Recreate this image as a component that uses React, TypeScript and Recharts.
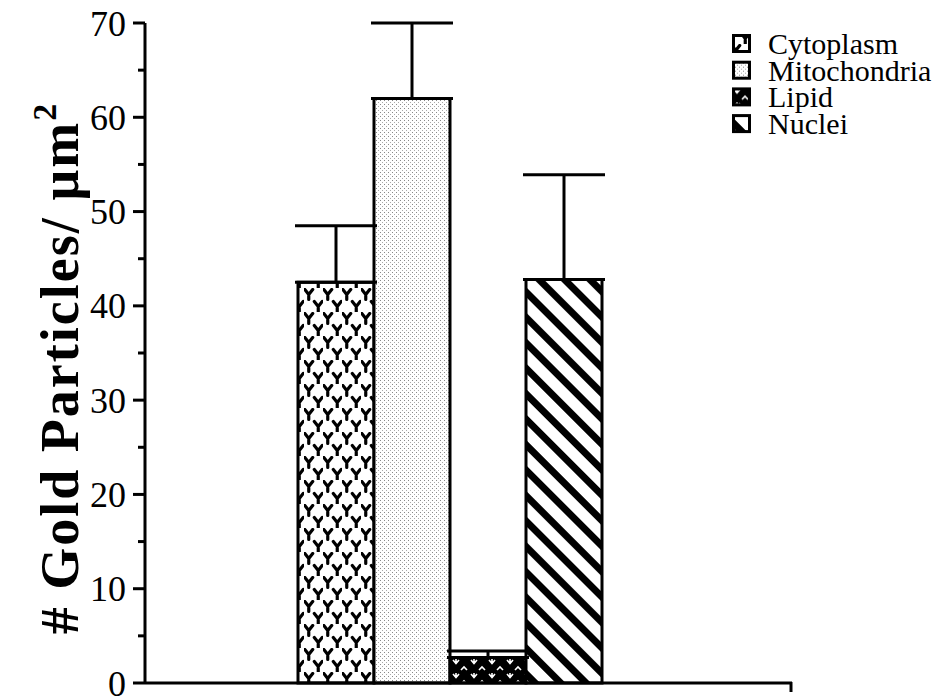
import React from "react";
import { BarChart, Bar, XAxis, YAxis, ErrorBar, Cell } from "recharts";

// values
const categories = ["Cytoplasm", "Mitochondria", "Lipid", "Nuclei"];
const means = [42.5, 62, 2.7, 42.8];
const upperErrors = [6, 8, 0.7, 11.1];
const yTicks = [0, 5, 10, 15, 20, 25, 30, 35, 40, 45, 50, 55, 60, 65, 70];

const W = 945;
const H = 699;
const AXIS_X = 145;
const AXIS_END = 792;
const SERIF = "'Liberation Serif', 'Times New Roman', serif";

const data = categories.map((c, i) => ({
  name: c,
  value: means[i],
  err: [0, upperErrors[i]],
}));

const fills = [
  "url(#pat-cytoplasm)",
  "url(#pat-mitochondria)",
  "url(#pat-lipid)",
  "url(#pat-nuclei)",
];

const PatternDefs = () => (
  <defs>
    <pattern id="pat-cytoplasm" width="19" height="24" patternUnits="userSpaceOnUse">
      <rect width="19" height="24" fill="#fff" />
      <g stroke="#000" strokeWidth="3.2" fill="none" strokeLinecap="round">
        <path d="M4.75 11.5 V6.5 M4.75 6.5 L0.8 1.5 M4.75 6.5 L8.7 1.5" />
        <path d="M14.25 23.5 V18.5 M14.25 18.5 L10.3 13.5 M14.25 18.5 L18.2 13.5" />
      </g>
    </pattern>
    <pattern id="pat-mitochondria" width="4" height="4" patternUnits="userSpaceOnUse">
      <rect width="4" height="4" fill="#fff" />
      <rect x="0" y="0" width="1" height="1" fill="#888" />
      <rect x="2" y="2" width="1" height="1" fill="#aaa" />
    </pattern>
    <pattern id="pat-lipid" width="18" height="14" patternUnits="userSpaceOnUse">
      <rect width="18" height="14" fill="#000" />
      <g stroke="#fff" strokeWidth="1.6" fill="none">
        <path d="M3 2 L6 5.5 L9 2 M6 5.5 V1" />
        <path d="M11 12 L14 9 L17 12" />
      </g>
    </pattern>
    <pattern
      id="pat-nuclei"
      width="18"
      height="18"
      patternUnits="userSpaceOnUse"
      patternTransform="rotate(-45)"
    >
      <rect width="18" height="18" fill="#fff" />
      <rect width="7" height="18" fill="#000" />
    </pattern>
  </defs>
);

const YTick = (props: any) => {
  const { y, payload } = props;
  const v = payload.value;
  const major = v % 10 === 0;
  return (
    <g>
      <line x1={AXIS_X - (major ? 12 : 7)} x2={AXIS_X} y1={y} y2={y} stroke="#000" strokeWidth={3} />
      {major && (
        <text
          x={AXIS_X - 19}
          y={y}
          dy="0.35em"
          textAnchor="end"
          fontFamily={SERIF}
          fontSize={36}
          fill="#000"
        >
          {v}
        </text>
      )}
    </g>
  );
};

// legend drawn beside the chart (recharts Legend eats plot width)
const ChartLegend = () => (
  <svg
    width={214}
    height={130}
    style={{ position: "absolute", left: 731, top: 20 }}
  >
    {categories.map((c, i) => (
      <g key={c} transform={`translate(0, ${i * 26.7})`}>
        <rect x={2.5} y={15.5} width={16} height={16} fill={fills[i]} stroke="#000" strokeWidth={3} />
        <text x={37} y={34} fontFamily={SERIF} fontSize={30} fill="#000">
          {c}
        </text>
      </g>
    ))}
  </svg>
);

export default function App() {
  return (
    <div style={{ position: "absolute", left: 0, top: 0, width: W, height: H, background: "#fff" }}>
      <BarChart
        width={W}
        height={H}
        data={data}
        margin={{ top: 23, right: W - AXIS_END, bottom: 14, left: 0 }}
        barCategoryGap={0}
      >
        <PatternDefs />
        <XAxis
          dataKey="name"
          tick={false}
          tickLine={false}
          height={2}
          padding={{ left: 153, right: 190 }}
          axisLine={{ stroke: "#000", strokeWidth: 3 }}
        />
        <YAxis
          width={AXIS_X}
          domain={[0, 70]}
          ticks={yTicks}
          interval={0}
          tickLine={false}
          tick={<YTick />}
          axisLine={{ stroke: "#000", strokeWidth: 3 }}
        />
        <Bar dataKey="value" stroke="#000" strokeWidth={3} isAnimationActive={false}>
          {data.map((d, i) => (
            <Cell key={d.name} fill={fills[i]} />
          ))}
          <ErrorBar dataKey="err" width={41} stroke="#000" strokeWidth={3} direction="y" />
        </Bar>
        <g>
          <line x1={AXIS_END - 1} x2={AXIS_END - 1} y1={682} y2={692} stroke="#000" strokeWidth={3} />
          <text
            transform="translate(78, 368) rotate(-90)"
            textAnchor="middle"
            fontFamily={SERIF}
            fontWeight="bold"
            fontSize={54}
            letterSpacing={2}
            fill="#000"
          >
            # Gold Particles/ µm
            <tspan fontSize={34} dy={-22}>2</tspan>
          </text>
        </g>
      </BarChart>
      <ChartLegend />
    </div>
  );
}
